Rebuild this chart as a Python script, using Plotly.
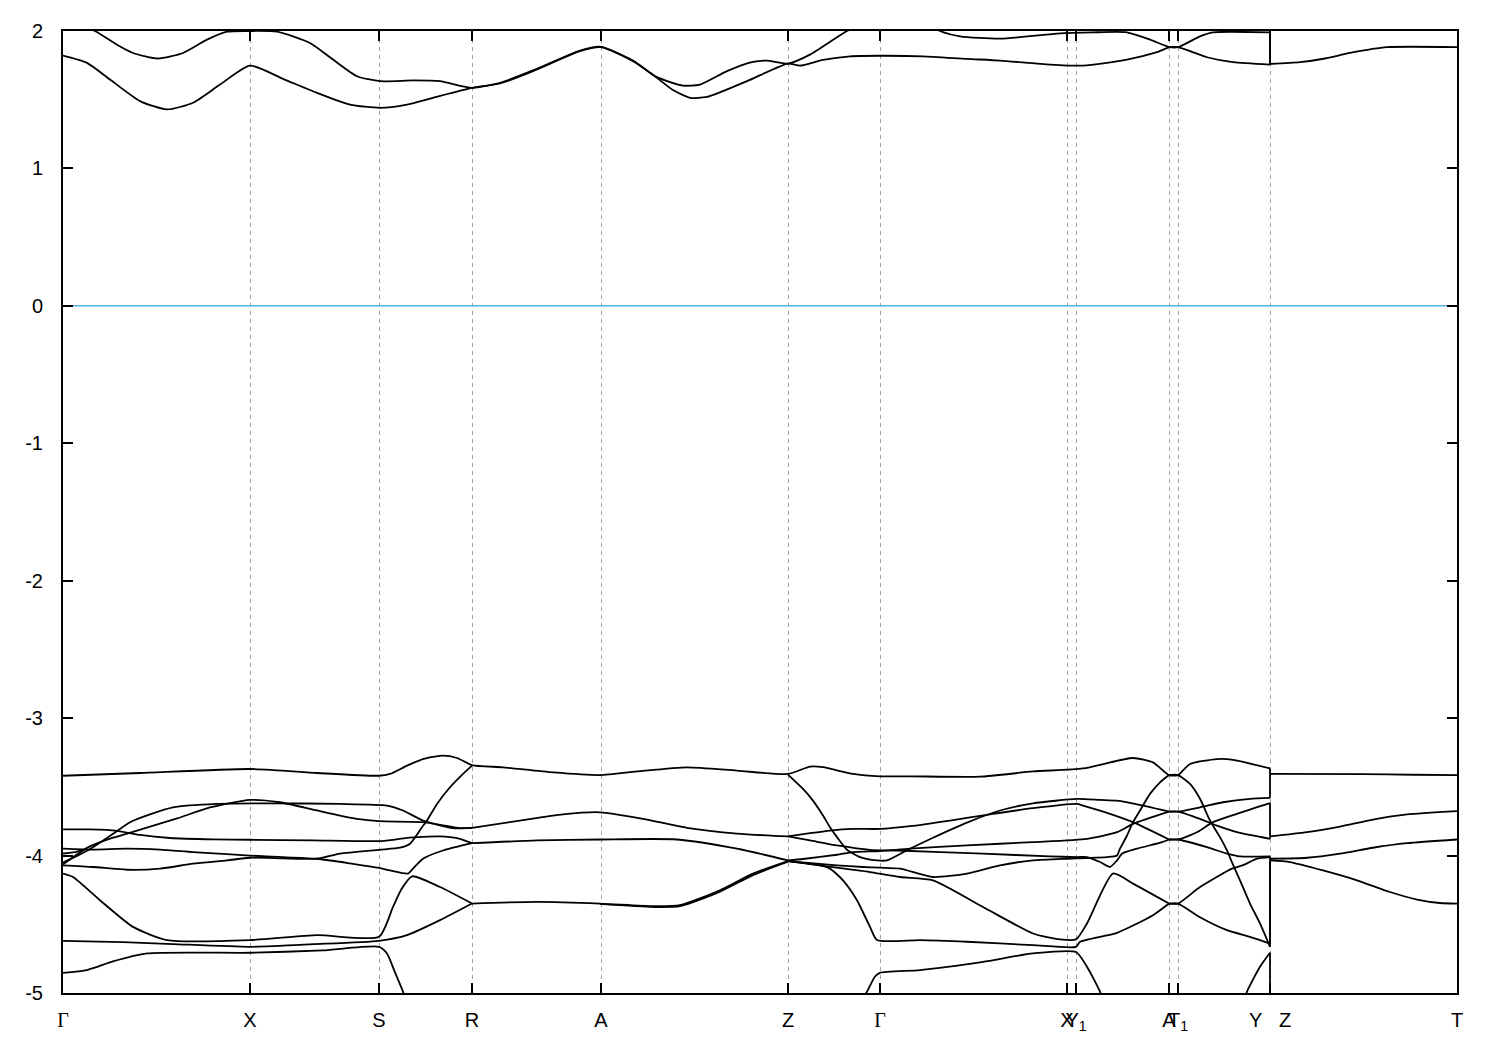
import plotly.graph_objects as go

# ---------------- axis data ----------------
k_ticks = [0.0, 1.87, 3.16, 4.09, 5.38, 7.25, 8.17, 10.04, 10.13, 11.06, 11.15, 12.07, 13.94]
GAMMA = '<span style="font-family:Liberation Serif">Γ</span>'
tick_labels = [GAMMA, "X", "S", "R", "A", "Z", GAMMA, "X", "Y<sub>1</sub>", "A", "T<sub>1</sub>",
               "Y\u00a0\u00a0\u00a0Z", "T"]
e_ticks = [-5, -4, -3, -2, -1, 0, 1, 2]
e_labels = ["-5", "-4", "-3", "-2", "-1", "0", "1", "2"]
fermi = 0.0

# ---------------- band data (k, E in eV) ----------------
cb_low = [(0.00, 1.821), (0.24, 1.768), (0.47, 1.647), (0.77, 1.49), (1.04, 1.429), (1.30, 1.478),
          (1.57, 1.61), (1.87, 1.748), (2.20, 1.652), (2.54, 1.55), (2.87, 1.465), (3.17, 1.441),
          (3.44, 1.465), (3.70, 1.514), (4.09, 1.586), (4.37, 1.618), (4.70, 1.708), (5.17, 1.853),
          (5.38, 1.882), (5.70, 1.78), (5.94, 1.659), (6.10, 1.57), (6.27, 1.514), (6.44, 1.52),
          (6.84, 1.635), (7.25, 1.763), (7.37, 1.748), (7.60, 1.79), (7.87, 1.816), (8.17, 1.82),
          (8.60, 1.816), (9.04, 1.797), (9.37, 1.785), (9.87, 1.756), (10.20, 1.748), (10.64, 1.792),
          (10.94, 1.846), (11.07, 1.882), (11.15, 1.882), (11.44, 1.809), (11.70, 1.773), (12.07, 1.756)]
cb_up = [(0.00, 2.10), (0.32, 2.0), (0.54, 1.90), (0.70, 1.84), (0.95, 1.80), (1.20, 1.84),
         (1.44, 1.937), (1.64, 1.995), (1.87, 2.0), (2.14, 1.995), (2.47, 1.913), (2.70, 1.792),
         (2.94, 1.671), (3.17, 1.635), (3.50, 1.64), (3.77, 1.635), (4.09, 1.586), (4.37, 1.623),
         (4.70, 1.713), (5.17, 1.858), (5.38, 1.885), (5.70, 1.785), (5.94, 1.664), (6.20, 1.603),
         (6.37, 1.61), (6.64, 1.708), (6.90, 1.775), (7.04, 1.785), (7.25, 1.763), (7.47, 1.828),
         (7.84, 2.0), (8.20, 2.12), (8.50, 2.12), (8.77, 2.0), (8.97, 1.961), (9.37, 1.944),
         (9.94, 1.981), (10.30, 1.99), (10.64, 1.99), (10.87, 1.937), (11.07, 1.882), (11.15, 1.882),
         (11.37, 1.961), (11.50, 1.99), (12.07, 1.99)]
cb_zt = [(12.07, 1.76), (12.37, 1.773), (12.62, 1.80), (12.87, 1.84), (13.24, 1.882), (13.94, 1.882)]

vb_top = [(0.00, -3.419), (0.77, -3.399), (1.87, -3.37), (2.54, -3.399), (3.16, -3.419), (3.27, -3.406),
          (3.44, -3.346), (3.60, -3.298), (3.80, -3.273), (3.94, -3.29), (4.09, -3.341), (4.40, -3.358),
          (4.90, -3.395), (5.37, -3.414), (5.74, -3.388), (6.24, -3.358), (6.74, -3.382), (7.25, -3.406),
          (7.47, -3.353), (7.60, -3.357), (7.90, -3.406), (8.17, -3.423), (8.47, -3.423), (9.17, -3.426),
          (9.70, -3.388), (10.20, -3.366), (10.70, -3.29), (10.90, -3.322), (11.06, -3.414),
          (11.15, -3.414), (11.27, -3.334), (11.54, -3.298), (11.70, -3.303), (12.07, -3.366)]
vb_r1 = [(0.00, -4.05), (0.15, -4.00), (0.30, -3.939), (0.50, -3.842), (0.67, -3.757), (0.87, -3.70),
         (1.10, -3.649), (1.54, -3.624), (2.10, -3.62), (2.77, -3.624), (3.24, -3.636), (3.40, -3.672),
         (3.60, -3.745), (3.90, -3.80), (4.09, -3.798)]
vb_r2 = [(0.00, -4.064), (0.25, -3.94), (0.50, -3.87), (0.78, -3.81), (1.14, -3.73), (1.47, -3.65),
         (1.87, -3.595), (2.17, -3.612), (2.54, -3.672), (2.94, -3.733), (3.16, -3.75), (3.60, -3.757),
         (3.97, -3.80), (4.09, -3.798)]
vb_stub = [(0.00, -3.985), (0.12, -3.975), (0.22, -3.955)]
vb_f1 = [(0.00, -3.81), (0.27, -3.81), (0.54, -3.82), (0.77, -3.85), (1.07, -3.872), (1.50, -3.882),
         (1.87, -3.885), (2.50, -3.89), (3.16, -3.895), (3.30, -3.885), (3.44, -3.871), (3.77, -3.861),
         (3.95, -3.875), (4.09, -3.91)]
vb_g1 = [(0.00, -3.95), (0.30, -3.957), (0.64, -3.95), (0.97, -3.957), (1.30, -3.975), (1.64, -3.99),
         (1.87, -4.0), (2.20, -4.012), (2.54, -4.023), (2.90, -4.06), (3.16, -4.09), (3.27, -4.108),
         (3.45, -4.131), (3.50, -4.095), (3.60, -4.023), (3.80, -3.963), (4.09, -3.91)]
vb_g2 = [(0.00, -4.071), (0.30, -4.083), (0.64, -4.103), (0.97, -4.095), (1.30, -4.059), (1.64, -4.035),
         (1.87, -4.016), (2.20, -4.02), (2.54, -4.023), (2.77, -3.986), (3.16, -3.958), (3.37, -3.943),
         (3.47, -3.914), (3.59, -3.794), (3.64, -3.745), (3.74, -3.624), (3.87, -3.503), (3.98, -3.42),
         (4.09, -3.346)]
vb_d1 = [(0.00, -4.131), (0.10, -4.156), (0.37, -4.325), (0.70, -4.519), (1.04, -4.615), (1.87, -4.615),
         (2.54, -4.579), (3.16, -4.591), (3.30, -4.374), (3.38, -4.25), (3.49, -4.151), (3.77, -4.229),
         (4.09, -4.349)]
vb_e1 = [(0.00, -4.62), (0.60, -4.63), (1.10, -4.644), (1.87, -4.664), (2.50, -4.645), (3.16, -4.62),
         (3.44, -4.579), (3.77, -4.47), (4.09, -4.349)]
vb_l1 = [(0.00, -4.853), (0.24, -4.833), (0.50, -4.77), (0.84, -4.712), (1.87, -4.707), (2.60, -4.69),
         (3.16, -4.664), (3.24, -4.712), (3.32, -4.85), (3.40, -4.99), (3.43, -5.06)]

vb_rz2 = [(4.09, -3.798), (4.57, -3.745), (5.00, -3.70), (5.37, -3.685), (5.80, -3.733), (6.24, -3.798),
          (6.74, -3.84), (7.25, -3.861)]
vb_rz3 = [(4.09, -3.91), (4.74, -3.89), (5.37, -3.883), (6.14, -3.883), (6.74, -3.95), (7.25, -4.035)]
vb_rz4 = [(4.09, -4.349), (4.74, -4.337), (5.37, -4.349), (5.90, -4.368), (6.17, -4.361), (6.57, -4.252),
          (6.90, -4.131), (7.25, -4.04)]
vb_rz5 = [(5.37, -4.352), (5.90, -4.374), (6.17, -4.368), (6.57, -4.262), (6.90, -4.142), (7.25, -4.045)]

vb_zsteep = [(7.25, -3.411), (7.40, -3.515), (7.50, -3.60), (7.60, -3.709), (7.67, -3.794), (7.74, -3.866),
             (7.84, -3.958), (7.97, -4.011), (8.14, -4.035), (8.24, -4.035), (8.47, -3.95), (8.70, -3.87),
             (9.04, -3.76), (9.37, -3.672), (9.70, -3.62), (10.14, -3.588), (10.37, -3.595), (10.54, -3.60),
             (10.80, -3.636), (11.06, -3.68)]
vb_zga = [(7.25, -3.861), (7.47, -3.837), (7.67, -3.818), (7.90, -3.806), (8.17, -3.806), (8.47, -3.786),
          (8.87, -3.745), (9.27, -3.70), (9.70, -3.655), (10.14, -3.624), (10.20, -3.636), (10.47, -3.696),
          (10.70, -3.757), (11.06, -3.883)]
vb_zgb = [(7.25, -4.035), (7.40, -4.025), (7.74, -3.994), (7.90, -3.975), (8.17, -3.967), (8.47, -3.95),
          (9.04, -3.926), (9.70, -3.902), (10.24, -3.878), (10.54, -3.83), (10.70, -3.769), (11.06, -3.68)]
vb_zgc = [(7.25, -3.861), (7.47, -3.89), (7.74, -3.926), (8.07, -3.958), (8.34, -3.963), (9.20, -3.986),
          (9.87, -4.006), (10.14, -4.011), (10.24, -4.011), (10.37, -4.047), (10.47, -4.083), (10.54, -4.035),
          (10.59, -3.986), (10.74, -3.95), (10.99, -3.902), (11.06, -3.883)]
vb_zgd = [(7.25, -4.04), (7.74, -4.071), (8.00, -4.083), (8.17, -4.088), (8.37, -4.095), (8.70, -4.156),
          (9.04, -4.131), (9.37, -4.071), (9.70, -4.035), (10.04, -4.023), (10.24, -4.018), (10.44, -4.011),
          (10.54, -3.999), (10.57, -3.95), (10.64, -3.854), (10.70, -3.757), (10.77, -3.672), (10.87, -3.551),
          (10.97, -3.467), (11.06, -3.414)]
vb_zge = [(7.25, -4.04), (7.57, -4.071), (7.87, -4.10), (8.07, -4.12), (8.37, -4.156), (8.70, -4.18),
          (9.20, -4.374), (9.70, -4.567), (9.97, -4.61), (10.13, -4.61), (10.24, -4.494), (10.50, -4.131),
          (10.70, -4.204), (11.06, -4.349)]
vb_zgs2 = [(7.25, -4.04), (7.57, -4.071), (7.67, -4.095), (7.80, -4.18), (7.94, -4.325), (8.07, -4.519),
           (8.14, -4.615), (8.57, -4.615), (9.04, -4.627), (9.70, -4.652), (10.13, -4.664), (10.17, -4.627),
           (10.54, -4.562), (10.90, -4.434), (11.06, -4.349)]
vb_zgl = [(7.98, -5.05), (8.04, -4.99), (8.12, -4.88), (8.17, -4.853), (8.57, -4.833), (9.20, -4.773),
          (9.70, -4.712), (10.13, -4.702), (10.24, -4.809), (10.37, -4.99), (10.40, -5.05)]

vb_ay1 = [(11.06, -3.414), (11.15, -3.414), (11.27, -3.479), (11.37, -3.587), (11.47, -3.745),
          (11.57, -3.866), (11.64, -3.963), (11.69, -4.05), (11.77, -4.18), (11.87, -4.349),
          (11.97, -4.494), (12.07, -4.664)]
vb_ay2 = [(11.06, -3.68), (11.15, -3.68), (11.37, -3.649), (11.60, -3.612), (11.87, -3.587), (12.07, -3.58)]
vb_ay3 = [(11.06, -3.68), (11.15, -3.68), (11.37, -3.733), (11.54, -3.782), (11.74, -3.83), (12.07, -3.878)]
vb_ay4 = [(11.06, -3.883), (11.15, -3.883), (11.34, -3.83), (11.50, -3.757), (11.74, -3.696), (12.07, -3.619)]
vb_ay5 = [(11.06, -3.883), (11.15, -3.883), (11.44, -3.939), (11.64, -3.986), (11.77, -4.006), (12.07, -4.006)]
vb_ay6 = [(11.06, -4.349), (11.15, -4.349), (11.37, -4.229), (11.69, -4.095), (11.80, -4.07),
          (11.94, -4.023), (12.07, -4.011)]
vb_ay7 = [(11.06, -4.349), (11.15, -4.349), (11.37, -4.449), (11.64, -4.543), (11.87, -4.591), (12.07, -4.64)]
vb_ay8 = [(11.82, -5.05), (11.84, -4.99), (11.97, -4.809), (12.07, -4.707)]

vb_zt1 = [(12.07, -3.406), (13.00, -3.408), (13.50, -3.412), (13.94, -3.414)]
vb_zt2 = [(12.07, -3.861), (12.44, -3.83), (12.77, -3.789), (13.10, -3.738), (13.44, -3.701), (13.94, -3.677)]
vb_zt3 = [(12.07, -4.023), (12.44, -4.016), (12.77, -3.986), (13.10, -3.943), (13.44, -3.91), (13.94, -3.883)]
vb_zt4 = [(12.07, -4.035), (12.27, -4.047), (12.60, -4.108), (12.94, -4.18), (13.27, -4.265),
          (13.54, -4.32), (13.77, -4.345), (13.94, -4.349)]

# band energies at Y joined to band energies at Z (same k point)
k_yz = 12.07
yz_from = [1.99, 1.756, -3.366, -3.58, -3.619, -3.878, -4.006, -4.011, -4.64, -4.664, -4.707]
yz_to = [1.76, 2.10, -3.406, -3.406, -3.861, -3.861, -4.023, -4.035, -4.035, -4.04, -5.05]

bands = [cb_low, cb_up, cb_zt, vb_top, vb_r1, vb_r2, vb_stub, vb_f1, vb_g1, vb_g2, vb_d1, vb_e1, vb_l1,
         vb_rz2, vb_rz3, vb_rz4, vb_rz5, vb_zsteep, vb_zga, vb_zgb, vb_zgc, vb_zgd, vb_zge, vb_zgs2, vb_zgl,
         vb_ay1, vb_ay2, vb_ay3, vb_ay4, vb_ay5, vb_ay6, vb_ay7, vb_ay8, vb_zt1, vb_zt2, vb_zt3, vb_zt4]

fig = go.Figure()
for b in bands:
    fig.add_trace(go.Scatter(x=[p[0] for p in b], y=[p[1] for p in b], mode="lines",
                             line=dict(color="black", width=1.8, shape="spline", smoothing=0.6),
                             hoverinfo="skip"))
for e0, e1 in zip(yz_from, yz_to):
    fig.add_trace(go.Scatter(x=[k_yz, k_yz], y=[e0, e1], mode="lines",
                             line=dict(color="black", width=1.8), hoverinfo="skip"))

fig.add_trace(go.Scatter(x=[k_ticks[0], k_ticks[-1]], y=[fermi, fermi], mode="lines",
                         line=dict(color="#56b4e9", width=1.5), hoverinfo="skip"))

axis_font = dict(family="Liberation Sans, Arial, sans-serif", color="black")
fig.update_layout(
    width=1492, height=1042,
    margin=dict(l=55, r=43, t=20, b=57),
    plot_bgcolor="white", paper_bgcolor="white",
    showlegend=False,
    xaxis=dict(range=[k_ticks[0], k_ticks[-1]], tickmode="array", tickvals=k_ticks, ticktext=tick_labels,
               ticks="inside", ticklen=10, tickwidth=1.5, tickcolor="black",
               showline=True, linecolor="black", linewidth=2, mirror="ticks",
               showgrid=True, gridcolor="#a0a0a0", gridwidth=1, griddash="4px,4px",
               zeroline=False, tickangle=0, tickfont=dict(size=20, **axis_font),
               ticklabelstandoff=8),
    yaxis=dict(range=[-5, 2], tickmode="array", tickvals=e_ticks, ticktext=e_labels,
               ticks="inside", ticklen=10, tickwidth=1.5, tickcolor="black",
               showline=True, linecolor="black", linewidth=2, mirror="ticks",
               showgrid=False, zeroline=False, tickfont=dict(size=20, **axis_font),
               ticklabelstandoff=14),
)

fig.write_html("out.html")
